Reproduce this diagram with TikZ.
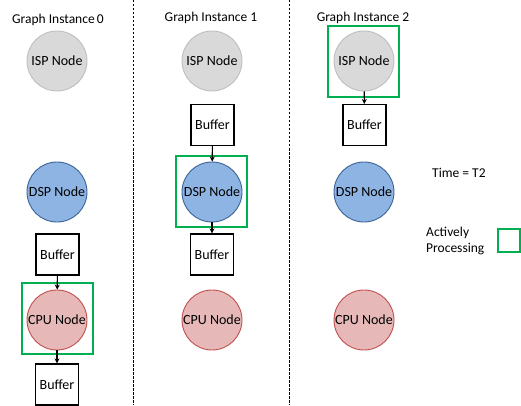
\documentclass[tikz,border=0pt]{standalone}
\usepackage{fontspec}
\setmainfont{Carlito}
\usetikzlibrary{arrows.meta}
\definecolor{ispfill}{HTML}{D9D9D9}
\definecolor{ispdraw}{HTML}{BFBFBF}
\definecolor{dspfill}{HTML}{8EB4E3}
\definecolor{dspdraw}{HTML}{3B6396}
\definecolor{cpufill}{HTML}{E6B9B8}
\definecolor{cpudraw}{HTML}{C0504D}
\definecolor{activegreen}{HTML}{00B050}
\tikzset{
  every node/.style={font=\fontsize{14}{16.5}\selectfont, inner sep=0pt},
  isp/.style={circle, minimum size=60pt, fill=ispfill, draw=ispdraw, line width=0.9pt},
  dsp/.style={circle, minimum size=60pt, fill=dspfill, draw=dspdraw, line width=0.9pt},
  cpu/.style={circle, minimum size=60pt, fill=cpufill, draw=cpudraw, line width=0.9pt},
  bufbox/.style={rectangle, minimum width=43pt, minimum height=41pt, draw=black, line width=1.1pt, fill=white},
  activebox/.style={rectangle, minimum width=71pt, minimum height=71pt, draw=activegreen, line width=1.2pt},
  flow/.style={-{Stealth[length=5pt,width=5pt]}, line width=1.1pt},
  divider/.style={line width=1pt, dash pattern=on 2.5pt off 1.5pt},
  title/.style={font=\fontsize{13.5}{16}\selectfont},
}
\begin{document}
\begin{tikzpicture}[x=1pt,y=-1pt]
\useasboundingbox (0,0) rectangle (521,406);
% dividers
\coordinate (d1t) at (133,0); \coordinate (d1b) at (133,405);
\coordinate (d2t) at (289,0); \coordinate (d2b) at (289,405);
\draw[divider] (d1t) -- (d1b);
\draw[divider] (d2t) -- (d2b);
% titles
\node[title] (t0) at (58,20) {Graph Instance\,0};
\node[title] (t1) at (211,18) {Graph Instance 1};
\node[title] (t2) at (363,18) {Graph Instance 2};
% column 0
\node[isp] (isp0) at (57,61) {ISP Node};
\node[dsp] (dsp0) at (57,192) {DSP Node};
\node[bufbox] (b0a) at (57.5,254.5) {Buffer};
\node[activebox] (g0) at (57.5,318.5) {};
\node[cpu] (cpu0) at (57,320) {CPU Node};
\node[bufbox] (b0b) at (57,384.5) {Buffer};
\draw[flow] (b0a) -- (cpu0);
\draw[flow] (cpu0) -- (b0b);
% column 1
\node[isp] (isp1) at (212,61) {ISP Node};
\node[bufbox] (b1a) at (212.5,125) {Buffer};
\node[activebox] (g1) at (211.5,191.5) {};
\node[dsp] (dsp1) at (212,192) {DSP Node};
\node[bufbox] (b1b) at (212,254.5) {Buffer};
\node[cpu] (cpu1) at (212,320) {CPU Node};
\draw[flow] (b1a) -- (dsp1);
\draw[flow] (dsp1) -- (b1b);
% column 2
\node[activebox] (g2) at (363.5,61.5) {};
\node[isp] (isp2) at (364,61) {ISP Node};
\node[bufbox] (b2a) at (364.5,125) {Buffer};
\node[dsp] (dsp2) at (364,192) {DSP Node};
\node[cpu] (cpu2) at (364,320) {CPU Node};
\draw[flow] (isp2) -- (b2a);
% legend
\node[anchor=west, title] (time) at (432,173) {Time = T2};
\node[anchor=west, align=left, font=\fontsize{13.5}{16.5}\selectfont] (act) at (426,241) {Actively\\Processing};
\node[rectangle, minimum width=22pt, minimum height=23pt, draw=activegreen, line width=1.2pt] (legbox) at (509,240.5) {};
\end{tikzpicture}
\end{document}
